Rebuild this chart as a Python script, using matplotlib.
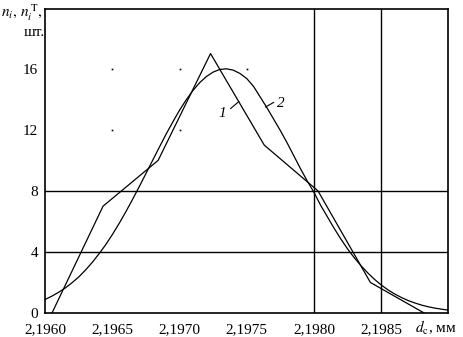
import matplotlib
matplotlib.use('Agg')
import matplotlib.pyplot as plt

plt.rcParams['font.family'] = ['Liberation Serif', 'DejaVu Serif']
plt.rcParams['mathtext.fontset'] = 'stix'

# polygon of empirical frequencies (curve 1)
poly_x = [2.19605, 2.19643, 2.19684, 2.19723, 2.19763, 2.19803, 2.19842, 2.19882]
poly_n = [0, 7, 10, 17, 11, 8, 2, 0]

# theoretical curve (curve 2)
theo_x = [2.19600, 2.19605, 2.19610, 2.19615, 2.19620, 2.19625, 2.19630, 2.19635,
          2.19640, 2.19645, 2.19650, 2.19655, 2.19660, 2.19665, 2.19670, 2.19675,
          2.19680, 2.19685, 2.19690, 2.19695, 2.19700, 2.19705, 2.19710, 2.19715,
          2.19720, 2.19725, 2.19730, 2.19735, 2.19740, 2.19745, 2.19750, 2.19755,
          2.19760, 2.19765, 2.19770, 2.19775, 2.19780, 2.19785, 2.19790, 2.19795,
          2.19800, 2.19805, 2.19810, 2.19815, 2.19820, 2.19825, 2.19830, 2.19835,
          2.19840, 2.19845, 2.19850, 2.19855, 2.19860, 2.19865, 2.19870, 2.19875,
          2.19880, 2.19885, 2.19890, 2.19895, 2.19900]
theo_n = [0.89, 1.11, 1.36, 1.65, 1.99, 2.37, 2.82, 3.32,
          3.88, 4.48, 5.15, 5.87, 6.64, 7.45, 8.29, 9.15,
          10.02, 10.88, 11.73, 12.53, 13.30, 13.98, 14.59, 15.10,
          15.50, 15.79, 15.96, 16.00, 15.91, 15.69, 15.36, 14.85,
          14.15, 13.45, 12.70, 11.95, 11.15, 10.30, 9.45, 8.65,
          7.90, 7.05, 6.30, 5.55, 4.85, 4.20, 3.62, 3.10,
          2.63, 2.21, 1.84, 1.52, 1.25, 1.02, 0.82, 0.66,
          0.52, 0.41, 0.32, 0.25, 0.19]

x_ticks = [2.1960, 2.1965, 2.1970, 2.1975, 2.1980, 2.1985]
x_labels = ['2,1960', '2,1965', '2,1970', '2,1975', '2,1980', '2,1985']
y_ticks = [0, 4, 8, 12, 16]
grid_y = [4, 8]
grid_x = [2.1980, 2.1985]
# stray specks left from the original grid
speck_x = [2.1965, 2.1970, 2.1975, 2.1965, 2.1970]
speck_y = [16, 16, 16, 12, 12]

fig = plt.figure(figsize=(4.63, 3.37), dpi=100)
ax = fig.add_axes([0.0978, 0.0712, 0.8705, 0.9012])

for gy in grid_y:
    ax.axhline(gy, color='black', lw=1.0)
for gx in grid_x:
    ax.axvline(gx, color='black', lw=1.0)

ax.plot(speck_x, speck_y, ls='none', marker='s', ms=1.2, mew=0, color='black')
ax.plot(poly_x, poly_n, color='black', lw=0.9)
ax.plot(theo_x, theo_n, color='black', lw=0.9)

ax.set_xlim(2.1960, 2.1990)
ax.set_ylim(0, 19.9)
ax.set_xticks(x_ticks)
ax.set_xticklabels(x_labels)
ax.set_yticks(y_ticks)
ax.tick_params(axis='both', which='major', length=0, labelsize=11)
ax.tick_params(axis='x', pad=7)
ax.tick_params(axis='y', pad=5)
for sp in ax.spines.values():
    sp.set_linewidth(1.2)

# curve labels with short leader lines
ax.plot([2.19738, 2.19744], [13.4, 13.85], color='black', lw=0.8)
ax.text(2.19732, 13.1, '1', fontsize=11, style='italic', ha='center', va='center')
ax.plot([2.19764, 2.19770], [13.5, 13.8], color='black', lw=0.8)
ax.text(2.19775, 13.7, '2', fontsize=11, style='italic', ha='center', va='center')

fig.text(0.003, 0.962, r'$n_i,\, n_i^{\,\mathrm{T}},$', fontsize=11, ha='left', va='center')
fig.text(0.052, 0.905, 'шт.', fontsize=11, ha='left', va='center')
fig.text(0.897, 0.028, r'$d_{\mathrm{c}}$, мм', fontsize=11, ha='left', va='center')

fig.savefig('out.png', dpi=100, facecolor='white')
